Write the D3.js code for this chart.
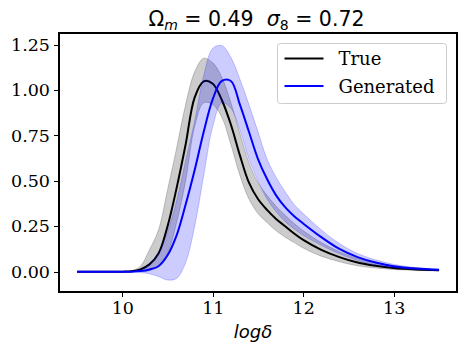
<html>

<head>
    <meta charset="utf-8">
    <title>mass function comparison</title>
    <style>
        body {
            margin: 0;
            background: #fff;
        }

        .axis text {
            font-family: "DejaVu Serif", serif;
            font-size: 17.5px;
            fill: #000;
        }

        .axis path,
        .axis line {
            fill: none;
            stroke: #000;
            stroke-width: 1.1;
            shape-rendering: crispEdges;
        }
    </style>
    <script src="https://d3js.org/d3.v7.min.js"></script>
</head>

<body>

</body>
<script>
    // log delta grid
    var logDelta = [9.5, 10.0, 10.1, 10.2, 10.3, 10.4, 10.5, 10.6, 10.7, 10.8, 10.9, 11.0, 11.1, 11.2,
        11.3, 11.4, 11.5, 11.6, 11.7, 11.8, 11.9, 12.0, 12.2, 12.4, 12.6, 12.8, 13.0, 13.25, 13.5];

    // true curve + band
    var trueMean = [0, 0, 0.002, 0.012, 0.04, 0.10, 0.25, 0.46, 0.70, 0.96, 1.048, 1.035, 0.945, 0.81,
        0.64, 0.49, 0.40, 0.34, 0.29, 0.25, 0.21, 0.175, 0.12, 0.08, 0.05, 0.032, 0.02, 0.012, 0.008];
    var trueHi = [0, 0, 0.004, 0.03, 0.12, 0.23, 0.45, 0.68, 0.92, 1.10, 1.175, 1.15, 1.07, 0.93,
        0.76, 0.60, 0.49, 0.42, 0.36, 0.31, 0.265, 0.225, 0.16, 0.11, 0.073, 0.048, 0.032, 0.02, 0.012];
    var trueLo = [0, 0, 0, 0.002, 0.005, 0.03, 0.10, 0.27, 0.50, 0.80, 0.93, 0.92, 0.85, 0.70,
        0.53, 0.40, 0.32, 0.27, 0.225, 0.19, 0.16, 0.13, 0.085, 0.055, 0.032, 0.02, 0.012, 0.007, 0.004];

    // generated curve + band
    var genMean = [0, 0, 0, 0.003, 0.012, 0.03, 0.09, 0.20, 0.37, 0.56, 0.77, 0.95, 1.05, 1.05,
        0.92, 0.77, 0.62, 0.51, 0.42, 0.355, 0.305, 0.265, 0.19, 0.125, 0.08, 0.05, 0.03, 0.017, 0.01];
    var genHi = [0, 0, 0.001, 0.01, 0.04, 0.10, 0.22, 0.39, 0.61, 0.83, 1.08, 1.23, 1.245, 1.18,
        1.06, 0.92, 0.77, 0.62, 0.52, 0.44, 0.37, 0.32, 0.23, 0.155, 0.10, 0.065, 0.04, 0.022, 0.013];
    var genLo = [0, 0, -0.002, -0.005, -0.012, -0.027, -0.046, -0.037, 0.05, 0.25, 0.53, 0.80, 0.93, 0.90,
        0.78, 0.62, 0.50, 0.40, 0.33, 0.275, 0.235, 0.20, 0.145, 0.098, 0.062, 0.037, 0.022, 0.012, 0.007];

    var xTicks = [10, 11, 12, 13];
    var yTicks = [0, 0.25, 0.5, 0.75, 1.0, 1.25];

    var margin = {
            top: 33,
            right: 8,
            bottom: 60,
            left: 59
        },
        width = 465 - margin.left - margin.right,
        height = 352 - margin.top - margin.bottom;

    var x = d3.scaleLinear()
        .domain([9.3, 13.7])
        .range([0, width]);

    var y = d3.scaleLinear()
        .domain([-0.112, 1.314])
        .range([height, 0]);

    var svg = d3.select("body").append("svg")
        .attr("width", 465)
        .attr("height", 352);

    var g = svg.append("g")
        .attr("transform", "translate(" + margin.left + "," + margin.top + ")");

    var rows = logDelta.map(function(d, i) {
        return {
            x: d,
            tm: trueMean[i],
            th: trueHi[i],
            tl: trueLo[i],
            gm: genMean[i],
            gh: genHi[i],
            gl: genLo[i]
        };
    });

    var curve = d3.curveCatmullRom.alpha(0.5);

    function band(hi, lo) {
        return d3.area()
            .curve(curve)
            .x(function(d) { return x(d.x); })
            .y0(function(d) { return y(d[lo]); })
            .y1(function(d) { return y(d[hi]); });
    }

    function line(key) {
        return d3.line()
            .curve(curve)
            .x(function(d) { return x(d.x); })
            .y(function(d) { return y(d[key]); });
    }

    // true: band then line
    g.append("path")
        .datum(rows)
        .attr("d", band("th", "tl"))
        .attr("fill", "#000")
        .attr("fill-opacity", 0.2)
        .attr("stroke", "#000")
        .attr("stroke-opacity", 0.2)
        .attr("stroke-width", 1);

    g.append("path")
        .datum(rows)
        .attr("d", line("tm"))
        .attr("fill", "none")
        .attr("stroke", "#000")
        .attr("stroke-width", 2);

    // generated: band then line
    g.append("path")
        .datum(rows)
        .attr("d", band("gh", "gl"))
        .attr("fill", "#0000ff")
        .attr("fill-opacity", 0.2)
        .attr("stroke", "#0000ff")
        .attr("stroke-opacity", 0.2)
        .attr("stroke-width", 1);

    g.append("path")
        .datum(rows)
        .attr("d", line("gm"))
        .attr("fill", "none")
        .attr("stroke", "#0000ff")
        .attr("stroke-width", 2);

    // axes
    g.append("g")
        .attr("class", "x axis")
        .attr("transform", "translate(0," + height + ")")
        .call(d3.axisBottom(x).tickValues(xTicks).tickFormat(d3.format("d")).tickSize(5).tickSizeOuter(0).tickPadding(5));

    g.append("g")
        .attr("class", "y axis")
        .call(d3.axisLeft(y).tickValues(yTicks).tickFormat(d3.format(".2f")).tickSize(5).tickSizeOuter(0).tickPadding(4));

    // box
    g.append("rect")
        .attr("x", 0)
        .attr("y", 0)
        .attr("width", width)
        .attr("height", height)
        .attr("fill", "none")
        .attr("stroke", "#000")
        .attr("stroke-width", 1.1)
        .attr("shape-rendering", "crispEdges");

    // title
    var title = svg.append("text")
        .attr("x", 256.5)
        .attr("y", 26)
        .attr("text-anchor", "middle")
        .style("white-space", "pre")
        .style("font-family", "'DejaVu Sans', sans-serif")
        .style("font-size", "20.5px");
    title.append("tspan").text("Ω");
    title.append("tspan").attr("dy", 4).style("font-size", "14px").style("font-style", "italic").text("m");
    title.append("tspan").attr("dy", -4).text(" = 0.49  ");
    title.append("tspan").style("font-style", "italic").text("σ");
    title.append("tspan").attr("dy", 4).style("font-size", "14px").text("8");
    title.append("tspan").attr("dy", -4).text(" = 0.72");

    // x label
    svg.append("text")
        .attr("x", 253)
        .attr("y", 338)
        .attr("text-anchor", "middle")
        .style("font-family", "'DejaVu Sans', sans-serif")
        .style("font-style", "italic")
        .style("font-size", "18px")
        .text("logδ");

    // legend
    var legendNames = ["True", "Generated"];
    var legendColors = ["#000", "#0000ff"];

    var legend = svg.append("g")
        .attr("transform", "translate(277.5,43.5)");

    legend.append("rect")
        .attr("width", 169)
        .attr("height", 60)
        .attr("rx", 3)
        .attr("fill", "#fff")
        .attr("fill-opacity", 0.8)
        .attr("stroke", "#cccccc")
        .attr("stroke-width", 1);

    legendNames.forEach(function(name, i) {
        var ly = 15 + i * 27.5;
        legend.append("line")
            .attr("x1", 7)
            .attr("x2", 46)
            .attr("y1", ly)
            .attr("y2", ly)
            .attr("stroke", legendColors[i])
            .attr("stroke-width", 2);
        legend.append("text")
            .attr("x", 61)
            .attr("y", ly + 6.5)
            .style("font-family", "'DejaVu Serif', serif")
            .style("font-size", "18px")
            .text(name);
    });
</script>

</html>
